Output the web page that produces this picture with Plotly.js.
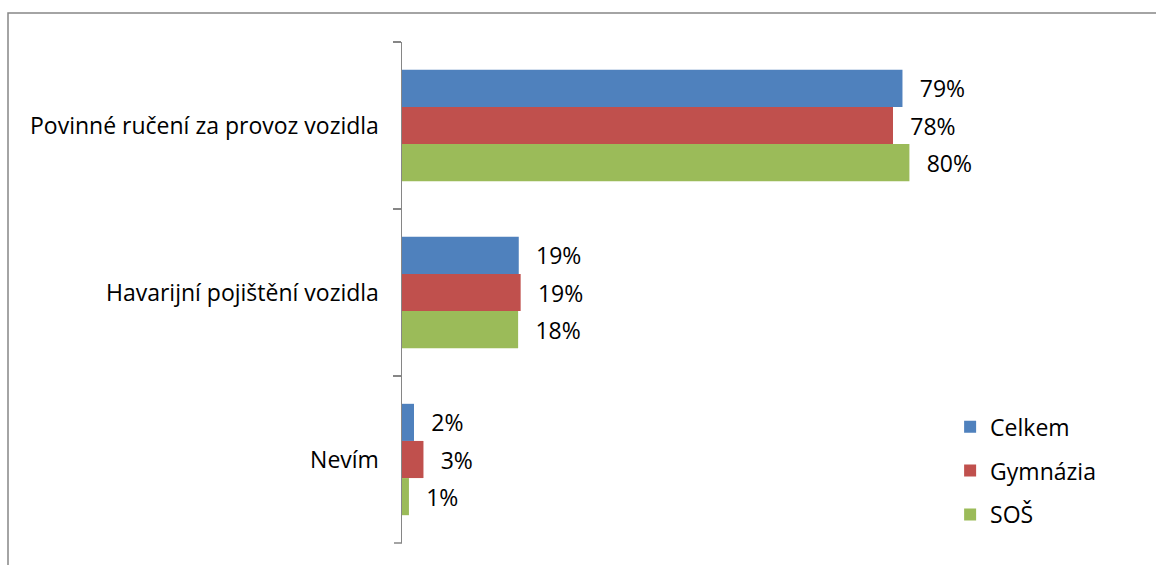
<!DOCTYPE html>
<html>
<head>
<meta charset="utf-8">
<script src="https://cdn.plot.ly/plotly-3.0.1.min.js"></script>
<style>
  html, body { margin: 0; padding: 0; background: #ffffff; }
  #chart { width: 1156px; height: 565px; }
</style>
</head>
<body>
<div id="chart"></div>
<script>
// Categories (top to bottom)
const categories = ["Povinné ručení za provoz vozidla", "Havarijní pojištění vozidla", "Nevím"];
// Series values (percent)
const celkem    = [79.3, 18.5, 1.9];
const gymnazia  = [77.8, 18.8, 3.4];
const sos       = [80.4, 18.4, 1.1];
const seriesNames = ["Celkem", "Gymnázia", "SOŠ"];
const seriesColors = ["#4F81BD", "#C0504D", "#9BBB59"];
const seriesValues = [celkem, gymnazia, sos];

const FONT = "Open Sans, Liberation Sans, Arial, sans-serif";
const FS = 23;

const traces = seriesValues.map((vals, i) => ({
  type: "bar",
  orientation: "h",
  name: seriesNames[i],
  legendgroup: "g" + i,
  y: categories,
  x: vals,
  marker: { color: seriesColors[i], line: { width: 0 } },
  texttemplate: "\u00a0\u00a0\u200a%{x:.0f}%",
  textposition: "outside",
  constraintext: "none",
  cliponaxis: false,
  textfont: { family: FONT, size: FS, color: "#000000" },
  hoverinfo: "skip"
}));

const layout = {
  width: 1156,
  height: 565,
  paper_bgcolor: "#ffffff",
  plot_bgcolor: "#ffffff",
  margin: { l: 402, r: 186, t: 42, b: 22, pad: 0 },
  barmode: "group",
  bargap: 0.333,
  bargroupgap: 0,
  showlegend: true,
  legend: {
    x: 0.965, xanchor: "left",
    y: 0.275, yanchor: "top",
    traceorder: "grouped",
    tracegroupgap: 11,
    font: { family: FONT, size: FS, color: "#000000" },
    bgcolor: "rgba(0,0,0,0)",
    borderwidth: 0
  },
  xaxis: {
    range: [0, 90],
    visible: false,
    showgrid: false,
    zeroline: false,
    fixedrange: true
  },
  yaxis: {
    type: "category",
    range: [2.5, -0.5],
    showline: true,
    linecolor: "#868686",
    linewidth: 1.5,
    ticks: "outside",
    tickson: "boundaries",
    ticklen: 8,
    tickwidth: 1.5,
    tickcolor: "#868686",
    ticklabelstandoff: 17,
    showgrid: false,
    zeroline: false,
    tickfont: { family: FONT, size: FS, color: "#000000" },
    fixedrange: true
  },
  shapes: [{
    type: "rect",
    xref: "paper", yref: "paper",
    x0: (8 - 402) / 568, x1: 2,
    y0: -1, y1: (543 - 13) / 501,
    line: { color: "#868686", width: 1.5 },
    fillcolor: "rgba(0,0,0,0)",
    layer: "below"
  }, {
    // closing tick at the bottom boundary of the category axis
    type: "line",
    xref: "paper", yref: "paper",
    x0: -8 / 568, x1: 0,
    y0: 0, y1: 0,
    line: { color: "#868686", width: 1.5 },
    layer: "above"
  }]
};

Plotly.newPlot("chart", traces, layout, { displayModeBar: false, staticPlot: true });
</script>
</body>
</html>
